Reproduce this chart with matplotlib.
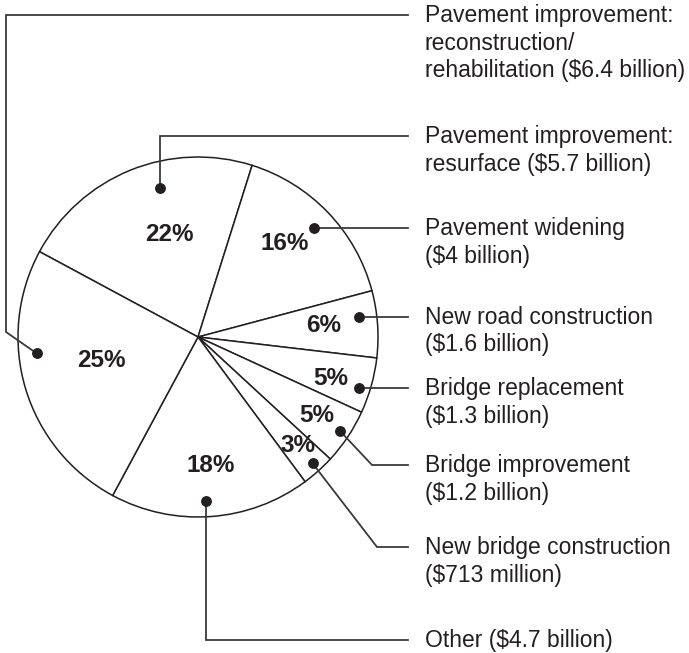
import numpy as np
import matplotlib.pyplot as plt

plt.rcParams['font.family'] = ['Liberation Sans', 'DejaVu Sans']

# slices in clockwise order, starting from the upper left
categories = ["Pavement improvement:\nresurface ($5.7 billion)",
              "Pavement widening\n($4 billion)",
              "New road construction\n($1.6 billion)",
              "Bridge replacement\n($1.3 billion)",
              "Bridge improvement\n($1.2 billion)",
              "New bridge construction\n($713 million)",
              "Other ($4.7 billion)",
              "Pavement improvement:\nreconstruction/\nrehabilitation ($6.4 billion)"]
percents = [22, 16, 6, 5, 5, 3, 18, 25]

# layout (pixels, image coords with y downwards)
W, H = 689, 653
cx, cy = 198, 337
R = 180
ink = "#231f20"
line_col = "#3a3a3a"

# where the % text and the dot sit inside each slice
pct_dr = [0.59, 0.71, 0.70, 0.77, 0.79, 0.82, 0.72, 0.55]
pct_dang = [-6.7, 3.3, 1.3, -1.6, 0.1, 0.9, 1.5, -3.2]
dot_ang = [104.3, 43.1, 7.2, -17.6, -33.5, -47.8, -87.2, 185.8]
dot_r = [153.8, 159.2, 162.6, 169.3, 170.3, 170.6, 164.2, 162.1]
label_y = [136, 228, 317, 388, 465, 547, 640, 15]
elbow_x = [None, None, None, None, 372, 377, None, None]  # diagonal kinks
line_end = 408
text_x = 425

fig = plt.figure(figsize=(W / 100, H / 100), dpi=100)
ax = fig.add_axes([0, 0, 1, 1])

wedges, _ = ax.pie(percents, startangle=151.7, counterclock=False,
                   radius=R, center=(cx, H - cy),
                   wedgeprops=dict(facecolor="white", edgecolor=ink, linewidth=1.1))

for i, w in enumerate(wedges):
    mid = np.deg2rad((w.theta1 + w.theta2) / 2 + pct_dang[i])
    r = pct_dr[i] * R
    ax.text(cx + r * np.cos(mid), H - cy + r * np.sin(mid), f"{percents[i]}%",
            ha="center", va="center", fontsize=17.5, fontweight="bold", color=ink)

    a = np.deg2rad(dot_ang[i])
    dx = cx + dot_r[i] * np.cos(a)
    dy = H - cy + dot_r[i] * np.sin(a)
    ly = H - label_y[i]
    xs, ys = [dx], [dy]
    if i == 7:
        # goes round the left of the pie up to the top
        xs += [6, 6]
        ys += [H - 332, ly]
    elif elbow_x[i] is not None:
        xs.append(elbow_x[i])
        ys.append(ly)
    elif abs(dy - ly) > 3:
        xs.append(dx)
        ys.append(ly)
    else:
        ly = dy
    xs.append(line_end)
    ys.append(ly)
    ax.plot(xs, ys, color=line_col, lw=1.3, solid_joinstyle="miter")
    ax.plot(dx, dy, "o", color=ink, ms=6.8)

    ax.text(text_x, ly + 11, categories[i], ha="left", va="top",
            fontsize=16.5, color=ink, linespacing=1.26)

ax.set_xlim(0, W)
ax.set_ylim(0, H)
ax.set_aspect("equal")
ax.axis("off")

fig.savefig("out.png", dpi=100, facecolor="white")
